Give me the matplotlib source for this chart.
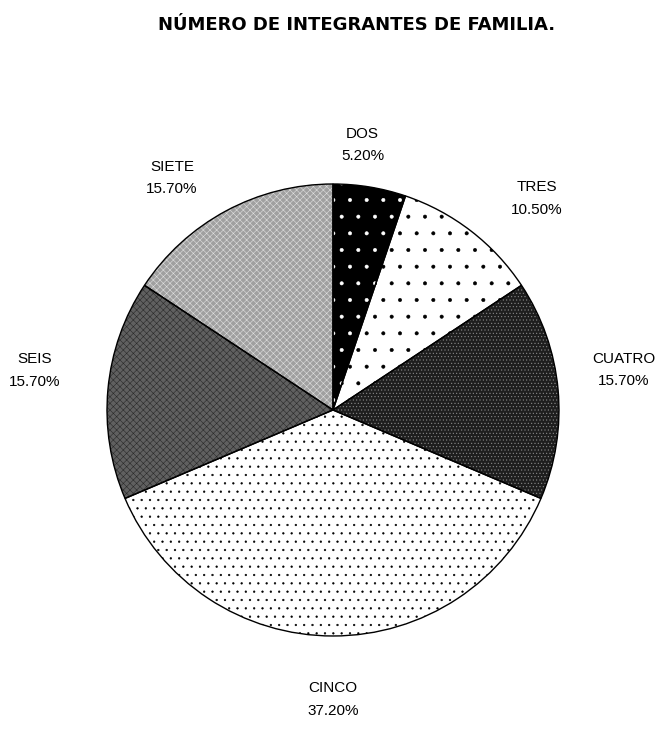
import numpy as np
import matplotlib.pyplot as plt

plt.rcParams['font.family'] = ['Liberation Sans', 'DejaVu Sans']
plt.rcParams['hatch.linewidth'] = 0.4

# Family size distribution
categories = ['DOS', 'TRES', 'CUATRO', 'CINCO', 'SEIS', 'SIETE']
shares = [5.2, 10.5, 15.7, 37.2, 15.7, 15.7]

# fill patterns: face colour, hatch, hatch colour
faces = ['black', 'white', '#1e1e1e', 'white', '#606060', '#a0a0a0']
hatches = ['.', '.', '.....', '..', 'xxxxx', 'xxxxx']
hatch_colors = ['white', 'black', '#8a8a8a', 'black', '#2a2a2a', '#e0e0e0']
label_dist = [1.18, 1.30, 1.30, 1.28, 1.33, 1.25]
label_shift = [3, -6.3, 2.6, 0, -2.4, 6.5]   # angular nudges in degrees

fig = plt.figure(figsize=(6.69, 7.29), dpi=100)
ax = fig.add_axes([0.0248, 0.0036, 0.9459, 0.868])

wedges, _ = ax.pie(shares, startangle=90, counterclock=False,
                   colors=faces, wedgeprops=dict(linewidth=0))
for w, h, hc in zip(wedges, hatches, hatch_colors):
    w.set_hatch(h)
    w.set_edgecolor(hc)

# black outlines drawn on top
ax.pie(shares, startangle=90, counterclock=False,
       wedgeprops=dict(facecolor='none', edgecolor='black', linewidth=1.0))

for w, name, val, d, s in zip(wedges, categories, shares, label_dist, label_shift):
    ang = np.deg2rad((w.theta1 + w.theta2) / 2 + s)
    ax.text(d * np.cos(ang), d * np.sin(ang), f'{name}\n{val:.2f}%',
            ha='center', va='center', fontsize=11, linespacing=1.8)

ax.set_xlim(-1.4, 1.4)
ax.set_ylim(-1.4, 1.4)
ax.set_aspect('equal')
ax.axis('off')

fig.text(0.533, 0.966, 'NÚMERO DE INTEGRANTES DE FAMILIA.', ha='center',
         va='center', fontsize=13, fontweight='bold', family='DejaVu Sans')

fig.savefig('out.png', dpi=100)
